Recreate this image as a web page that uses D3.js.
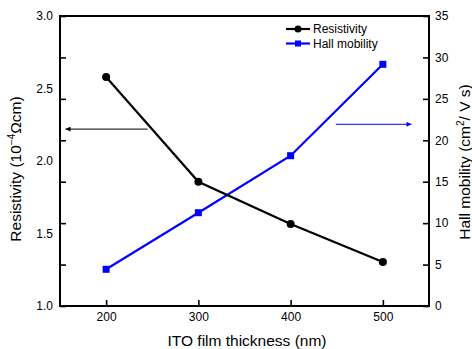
<!DOCTYPE html>
<html>
<head>
<meta charset="utf-8">
<script src="https://cdn.jsdelivr.net/npm/d3@7"></script>
<style>
  body { margin: 0; background: #fff; }
  svg { display: block; font-family: "Liberation Sans", Arial, sans-serif; }
  .axis path { display: none; }
  .axis line { stroke: #000; stroke-width: 1.6; }
  .axis text { fill: #000; font-size: 12px; }
</style>
</head>
<body>
<svg id="chart" width="472" height="349"></svg>
<script>
var thickness = [200, 300, 400, 500];
var resistivity = [2.58, 1.857, 1.566, 1.303];
var hallMobility = [4.43, 11.26, 18.14, 29.17];
var xTicks = [200, 300, 400, 500];
var leftTicks = [1.0, 1.5, 2.0, 2.5, 3.0];
var rightTicks = [0, 5, 10, 15, 20, 25, 30, 35];

var svg = d3.select("#chart");
var margin = { top: 16, right: 43, bottom: 43, left: 60 };
var width = +svg.attr("width") - margin.left - margin.right;
var height = +svg.attr("height") - margin.top - margin.bottom;

var xScale = d3.scaleLinear().domain([150, 550]).range([0, width]);
var yLeft = d3.scaleLinear().domain([1.0, 3.0]).range([height, 0]);
var yRight = d3.scaleLinear().domain([0, 35]).range([height, 0]);

var g = svg.append("g")
    .attr("transform", "translate(" + margin.left + "," + margin.top + ")");

// left axis: labels only, ticks follow the right axis positions (as in original)
g.append("g")
    .attr("class", "axis")
    .call(d3.axisLeft(yLeft).tickValues(leftTicks).tickSize(0).tickPadding(7)
        .tickFormat(d3.format(".1f")));

g.append("g")
    .attr("class", "axis")
    .call(d3.axisRight(yRight).tickValues(rightTicks).tickSize(6).tickFormat(""));

g.append("g")
    .attr("class", "axis")
    .attr("transform", "translate(" + width + ",0)")
    .call(d3.axisRight(yRight).tickValues(rightTicks).tickSizeInner(-6).tickSizeOuter(0).tickPadding(6));

g.append("g")
    .attr("class", "axis")
    .attr("transform", "translate(0," + height + ")")
    .call(d3.axisBottom(xScale).tickValues(xTicks).tickSizeInner(-6).tickSizeOuter(0).tickPadding(6)
        .tickFormat(d3.format("d")));

g.append("rect")
    .attr("width", width)
    .attr("height", height)
    .attr("fill", "none")
    .attr("stroke", "#000")
    .attr("stroke-width", 2);

// arrows
var defs = svg.append("defs");
[["arrBlack", "#000"], ["arrBlue", "#0000ff"]].forEach(function (a) {
    defs.append("marker")
        .attr("id", a[0])
        .attr("viewBox", "0 0 10 10")
        .attr("refX", 10).attr("refY", 5)
        .attr("markerWidth", 7).attr("markerHeight", 5)
        .attr("markerUnits", "userSpaceOnUse")
        .attr("orient", "auto")
        .append("path")
        .attr("d", "M0,0L10,5L0,10Z")
        .attr("fill", a[1]);
});

g.append("line")
    .attr("x1", xScale(245)).attr("x2", xScale(156))
    .attr("y1", yLeft(2.22)).attr("y2", yLeft(2.22))
    .attr("stroke", "#000").attr("stroke-width", 1)
    .attr("marker-end", "url(#arrBlack)");

g.append("line")
    .attr("x1", xScale(449)).attr("x2", xScale(531))
    .attr("y1", yRight(21.93)).attr("y2", yRight(21.93))
    .attr("stroke", "#0000ff").attr("stroke-width", 1)
    .attr("marker-end", "url(#arrBlue)");

// series
var resData = thickness.map(function (t, i) { return [t, resistivity[i]]; });
var hallData = thickness.map(function (t, i) { return [t, hallMobility[i]]; });

g.append("path")
    .datum(hallData)
    .attr("fill", "none")
    .attr("stroke", "#0000ff")
    .attr("stroke-width", 2.2)
    .attr("d", d3.line().x(function (d) { return xScale(d[0]); }).y(function (d) { return yRight(d[1]); }));

g.selectAll(".sq")
    .data(hallData)
    .enter().append("rect")
    .attr("class", "sq")
    .attr("x", function (d) { return xScale(d[0]) - 3.5; })
    .attr("y", function (d) { return yRight(d[1]) - 3.5; })
    .attr("width", 7).attr("height", 7)
    .attr("fill", "#0000ff");

g.append("path")
    .datum(resData)
    .attr("fill", "none")
    .attr("stroke", "#000")
    .attr("stroke-width", 2.2)
    .attr("d", d3.line().x(function (d) { return xScale(d[0]); }).y(function (d) { return yLeft(d[1]); }));

g.selectAll(".dot")
    .data(resData)
    .enter().append("circle")
    .attr("class", "dot")
    .attr("cx", function (d) { return xScale(d[0]); })
    .attr("cy", function (d) { return yLeft(d[1]); })
    .attr("r", 4)
    .attr("fill", "#000");

// legend
var legend = [["Resistivity", "#000", "circle"], ["Hall mobility", "#0000ff", "square"]];
legend.forEach(function (l, i) {
    var ly = 29 + i * 14.5;
    svg.append("line")
        .attr("x1", 286).attr("x2", 310).attr("y1", ly).attr("y2", ly)
        .attr("stroke", l[1]).attr("stroke-width", 2.2);
    if (l[2] === "circle") {
        svg.append("circle").attr("cx", 298).attr("cy", ly).attr("r", 3.5).attr("fill", l[1]);
    } else {
        svg.append("rect").attr("x", 295).attr("y", ly - 3).attr("width", 6).attr("height", 6).attr("fill", l[1]);
    }
    svg.append("text")
        .attr("x", 313).attr("y", ly + 4.3)
        .attr("font-size", 12)
        .attr("fill", "#000")
        .text(l[0]);
});

// axis titles
svg.append("text")
    .attr("x", 247).attr("y", 346)
    .attr("text-anchor", "middle")
    .attr("font-size", 15.5)
    .text("ITO film thickness (nm)");

var lt = svg.append("text")
    .attr("transform", "translate(21,169) rotate(-90)")
    .attr("text-anchor", "middle")
    .attr("font-size", 15.5);
lt.append("tspan").text("Resistivity (10");
lt.append("tspan").attr("dy", -6).attr("font-size", 10).text("\u22124");
lt.append("tspan").attr("dy", 6).text("\u03A9cm)");

var rt = svg.append("text")
    .attr("transform", "translate(470,162) rotate(-90)")
    .attr("text-anchor", "middle")
    .attr("font-size", 15.5);
rt.append("tspan").text("Hall mobility (cm");
rt.append("tspan").attr("dy", -6).attr("font-size", 10).text("2");
rt.append("tspan").attr("dy", 6).text("/ V s)");
</script>
</body>
</html>
